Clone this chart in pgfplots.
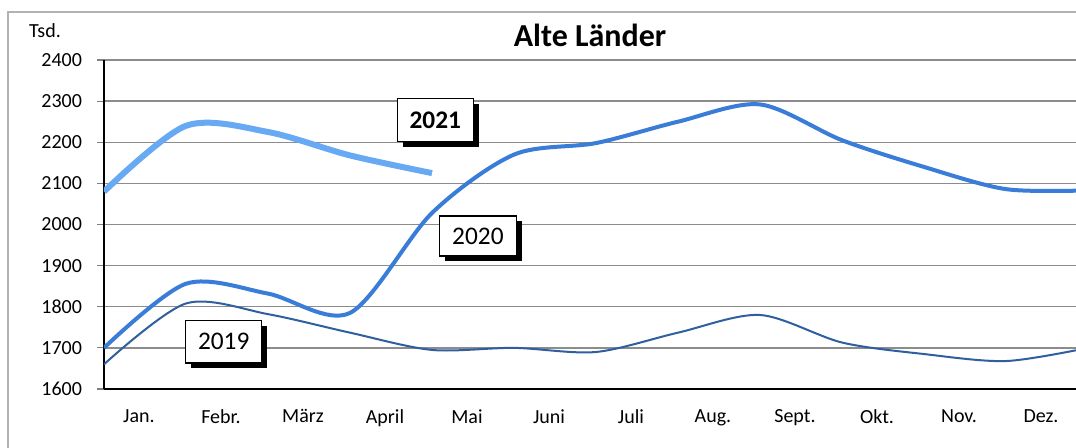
\documentclass[border=0pt]{standalone}
\usepackage{fontspec}
\setmainfont{Carlito}
\usepackage{pgfplots}
\pgfplotsset{compat=1.18}
\usetikzlibrary{shadows}
\definecolor{c19}{HTML}{2F5F9F}
\definecolor{c20}{HTML}{3A7DD8}
\definecolor{c21}{HTML}{68A9F4}
\begin{document}
\begin{tikzpicture}[x=1pt,y=1pt]
\clip (0,0) rectangle (807,335.25);
\fill[white] (0,0) rectangle (807,335.25);
\draw[black!30, line width=0.8pt] (6,326.25) rectangle (840,-20);
\node[font=\fontsize{24}{28}\selectfont\bfseries, anchor=base] at (442.5,300) {Alte Länder};
\node[font=\fontsize{15}{18}\selectfont] at (33.75,312) {Tsd.};
\begin{axis}[at={(78pt,43.5pt)}, anchor=south west, scale only axis,
  width=738pt, height=246.75pt,
  xmin=0, xmax=12, ymin=1600, ymax=2400,
  ytick={1600,1700,...,2400},
  xtick={0.5,1.5,...,11.5},
  xticklabels={Jan.,Febr.,März,April,Mai,Juni,Juli,Aug.,Sept.,Okt.,Nov.,Dez.},
  minor xtick={0,1,...,12},
  ymajorgrids, grid style={black!45, line width=1pt},
  axis x line*=bottom, axis y line*=left,
  axis line style={black, line width=0.8pt},
  tick align=outside,
  xtick style={draw=none},
  minor tick style={black!50, line width=0.8pt},
  minor tick length=5pt,
  ytick style={black!50, line width=0.8pt},
  major tick length=5pt,
  /pgf/number format/assume math mode=true,
  /pgf/number format/.cd, 1000 sep={}, /pgfplots/.cd,
  tick label style={font=\fontsize{15}{18}\selectfont},
  xticklabel style={yshift=-7pt, xshift=-4.5pt},
  yticklabel style={xshift=-8pt},
]
\addplot[c19, line width=1.5pt, smooth, tension=0.5] coordinates {
(0,1660) (1,1808) (2,1782) (3,1737) (4,1695) (5,1700) (6,1690) (7,1737) (8,1780) (9,1713) (10,1685) (11,1668) (12,1700)};
\addplot[c20, line width=3pt, smooth, tension=0.5] coordinates {
(0,1700) (1,1856) (2,1832) (3,1785) (4,2028) (5,2170) (6,2198) (7,2250) (8,2292) (9,2205) (10,2140) (11,2086) (12,2083)};
\addplot[c21, line width=4.5pt, smooth, tension=0.5] coordinates {
(0,2080) (1,2240) (2,2225) (3,2168) (4,2125)};
\node[draw=black, fill=white, line width=1pt, minimum width=57pt, minimum height=32pt,
  font=\fontsize{19}{22}\selectfont\bfseries,
  general shadow={fill=black, shadow xshift=4pt, shadow yshift=-4pt}] at (axis cs:4.04,2254) {2021};
\node[draw=black, fill=white, line width=1pt, minimum width=58pt, minimum height=30pt,
  font=\fontsize{19}{22}\selectfont,
  general shadow={fill=black, shadow xshift=4pt, shadow yshift=-4pt}] at (axis cs:4.56,1972) {2020};
\node[draw=black, fill=white, line width=1pt, minimum width=57pt, minimum height=32pt,
  font=\fontsize{19}{22}\selectfont,
  general shadow={fill=black, shadow xshift=4pt, shadow yshift=-4pt}] at (axis cs:1.46,1715) {2019};
\end{axis}
\end{tikzpicture}
\end{document}
